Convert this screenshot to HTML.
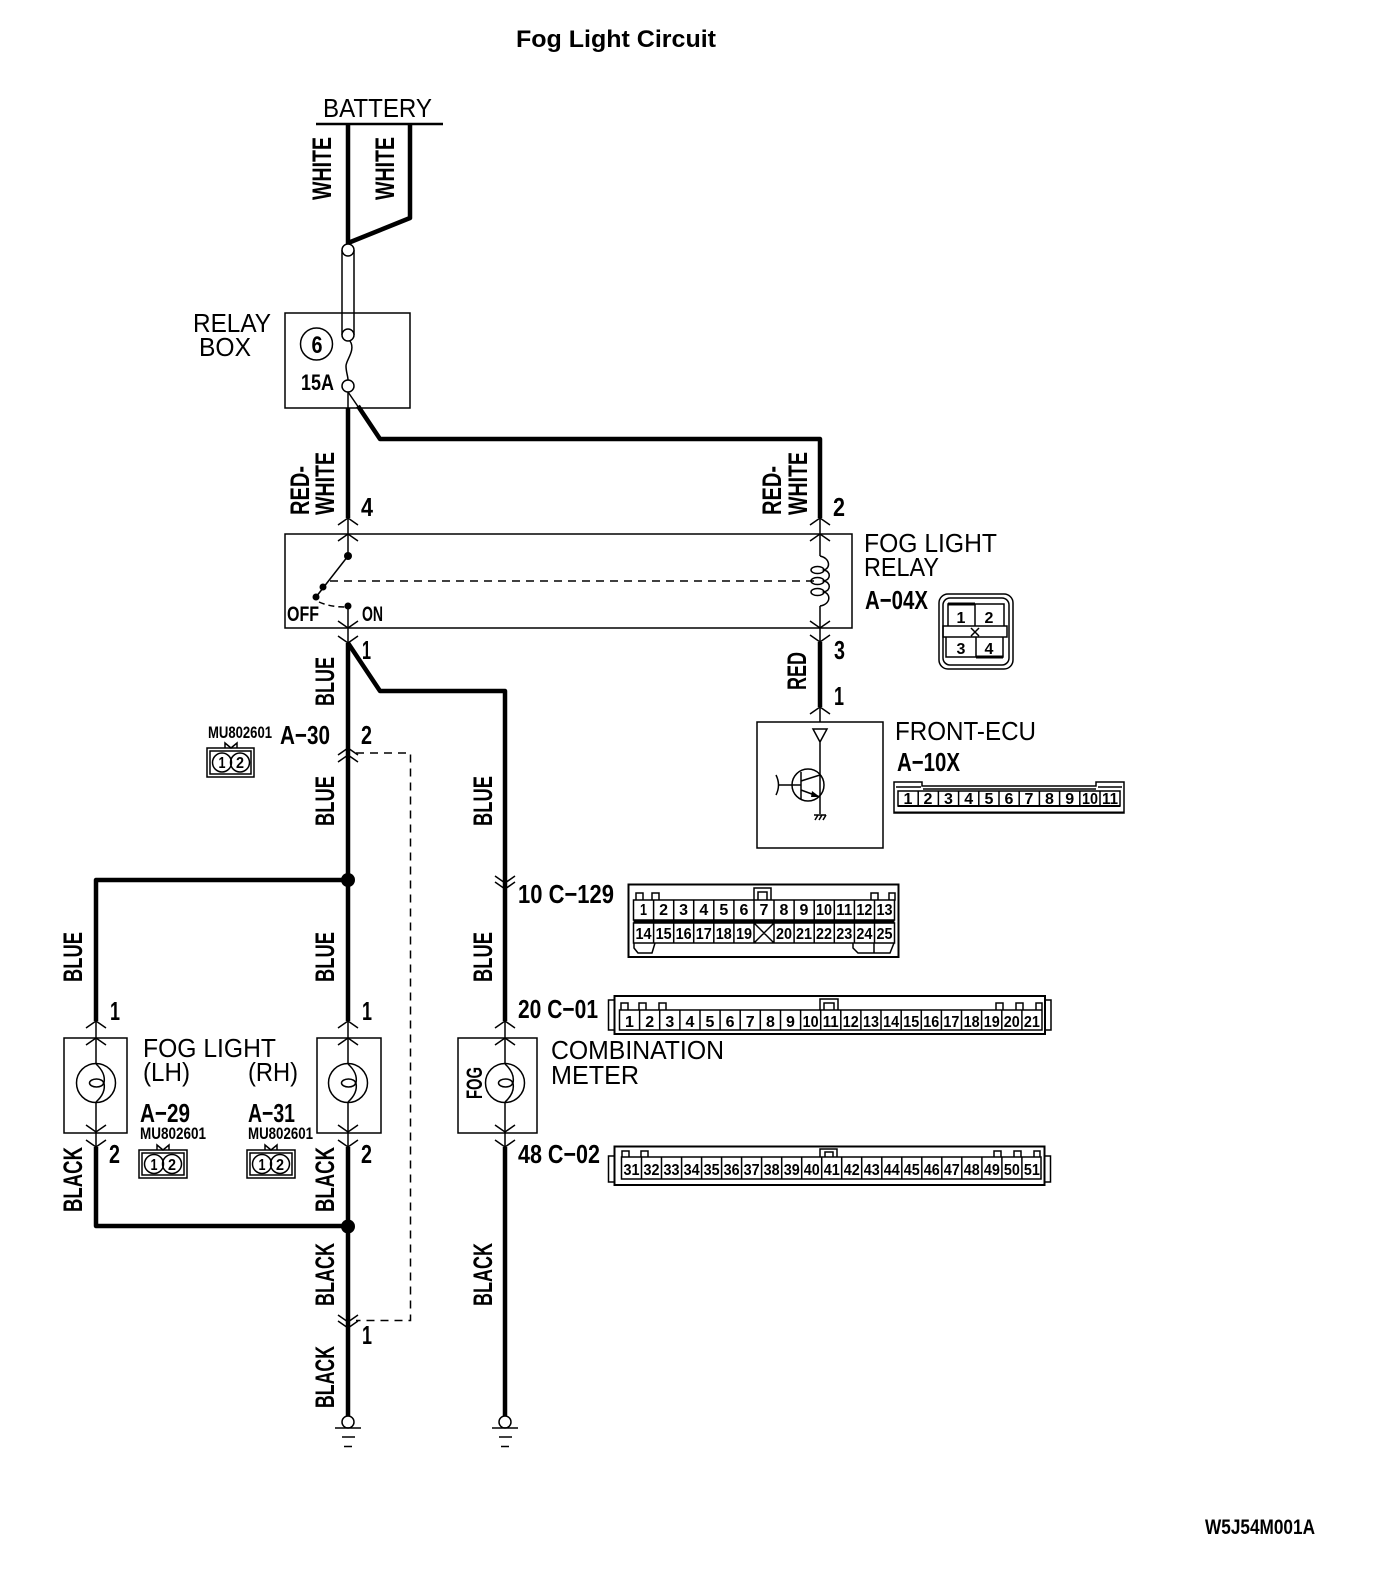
<!DOCTYPE html>
<html><head><meta charset="utf-8"><title>Fog Light Circuit</title>
<style>
html,body{margin:0;padding:0;background:#fff}
svg{display:block}
text{font-family:"Liberation Sans",sans-serif;fill:#000}
.r{font-size:26px}
.b{font-size:26px;font-weight:bold}
.v{font-size:27px;font-weight:bold}
.s{font-size:17px;font-weight:bold}
.n{font-size:16px;font-weight:bold;text-anchor:middle}
.th{fill:none;stroke:#000;stroke-width:1.5}
.w{fill:none;stroke:#000;stroke-width:4.5;stroke-linejoin:round}
.c{fill:#fff;stroke:#000;stroke-width:1.5}
.d{fill:none;stroke:#000;stroke-width:1.5;stroke-dasharray:8 6}
</style></head><body>
<svg xmlns="http://www.w3.org/2000/svg" width="1376" height="1574" viewBox="0 0 1376 1574">
<rect width="1376" height="1574" fill="#fff"/>
<text x="516" y="47" font-size="24" font-weight="bold" textLength="200" lengthAdjust="spacingAndGlyphs">Fog Light Circuit</text>
<text class="b" x="1205" y="1534" font-size="21" style="font-size:21px" textLength="110" lengthAdjust="spacingAndGlyphs">W5J54M001A</text>

<!-- Battery -->
<text class="r" x="323" y="117" textLength="109" lengthAdjust="spacingAndGlyphs">BATTERY</text>
<path d="M316 124H443" stroke="#000" stroke-width="2.5" fill="none"/>
<path class="w" d="M348 124V243L410 218V124"/>
<path class="th" d="M342 250V335M354 250V335"/>
<circle class="c" cx="348" cy="250" r="6"/>

<!-- Relay box -->
<rect class="th" x="285" y="313" width="125" height="95"/>
<circle class="c" cx="348" cy="335" r="6"/>
<path class="th" d="M350 341C356 350 346 360 346 366C346 372 348 376 348 380"/>
<circle class="c" cx="348" cy="386" r="6"/>
<circle class="th" cx="316.5" cy="344" r="16"/>
<text class="b" x="317" y="353" text-anchor="middle" style="font-size:24px" textLength="11" lengthAdjust="spacingAndGlyphs">6</text>
<text class="b" x="301" y="390" style="font-size:22px" textLength="33" lengthAdjust="spacingAndGlyphs">15A</text>
<text class="r" x="193" y="332" textLength="78" lengthAdjust="spacingAndGlyphs">RELAY</text>
<text class="r" x="199" y="356" textLength="52" lengthAdjust="spacingAndGlyphs">BOX</text>
<path class="th" d="M348 392V408"/>
<path class="th" d="M348 392L359 408"/>
<path class="w" d="M348 408V518"/>
<path class="w" d="M358 406L380 439H820V518"/>

<!-- Thick wires -->
<path class="w" d="M348 643V1021M348 1147V1416"/>
<path class="w" d="M348 643L380 691H505V1021M505 1147V1416"/>
<path class="w" d="M820 642V707"/>
<path class="w" d="M96 1021V880H348M96 1147V1226H348"/>
<circle cx="348" cy="880" r="7"/>
<circle cx="348" cy="1226.5" r="7"/>

<!-- Thin wires -->
<path class="th" d="M348 518V556M348 606V643M820 518V556M820 606V642M820 707V722"/>
<path class="th" d="M96 1021V1064M96 1102V1147M348 1021V1064M348 1102V1147M505 1021V1064M505 1102V1147"/>

<!-- Chevrons -->
<path class="th" d="M338 525L348 518L358 525M338 541L348 534L358 541M338 621L348 628L358 621M338 636L348 643L358 636
M810 525L820 518L830 525M810 541L820 534L830 541M810 621L820 628L830 621M810 635L820 642L830 635M810 714L820 707L830 714
M338 755L348 748L358 755M338 762L348 755L358 762M338 1315L348 1322L358 1315M338 1321L348 1328L358 1321
M86 1028L96 1021L106 1028M86 1045L96 1038L106 1045M86 1125L96 1132L106 1125M86 1140L96 1147L106 1140
M338 1028L348 1021L358 1028M338 1045L348 1038L358 1045M338 1125L348 1132L358 1125M338 1140L348 1147L358 1140
M495 1028L505 1021L515 1028M495 1045L505 1038L515 1045M495 1125L505 1132L515 1125M495 1140L505 1147L515 1140
M495 876L505 883L515 876M495 882L505 889L515 882"/>

<!-- Relay -->
<rect class="th" x="285" y="534" width="567" height="94"/>
<circle cx="348" cy="556" r="4"/>
<circle cx="348" cy="606" r="3.5"/>
<circle cx="316" cy="597" r="3.5"/>
<circle cx="323" cy="587" r="3.5"/>
<path class="th" d="M348 556L316 597"/>
<path fill="none" stroke="#000" stroke-width="1.5" stroke-dasharray="8 6" d="M330 581H815"/>
<path fill="none" stroke="#000" stroke-width="1.5" stroke-dasharray="6 4" d="M319 602Q330 607 345 607"/>
<text class="s" x="287" y="621" style="font-size:21px" textLength="32" lengthAdjust="spacingAndGlyphs">OFF</text>
<text class="s" x="362" y="621" style="font-size:21px" textLength="21" lengthAdjust="spacingAndGlyphs">ON</text>
<path class="th" d="M820 556C830 558 831 568 824 570C831 572 831 579 824 581C831 583 831 590 824 592C831 594 831 604 820 606"/>
<ellipse class="th" cx="817.5" cy="570" rx="6.5" ry="3.5"/>
<ellipse class="th" cx="817.5" cy="581" rx="6.5" ry="3.5"/>
<ellipse class="th" cx="817.5" cy="592" rx="6.5" ry="3.5"/>
<text class="r" x="864" y="552" textLength="133" lengthAdjust="spacingAndGlyphs">FOG LIGHT</text>
<text class="r" x="864" y="576" textLength="75" lengthAdjust="spacingAndGlyphs">RELAY</text>
<text class="b" x="865" y="609" textLength="63" lengthAdjust="spacingAndGlyphs">A−04X</text>
<rect class="th" x="939" y="594" width="74" height="75" rx="9"/>
<rect class="th" x="943" y="598" width="66" height="67" rx="7"/>
<path class="th" d="M948 604H1004V626H948ZM975 604V626M943 626H1007V637H943ZM946 637H1003V657H946ZM976 637V657M971 628L979 636M979 628L971 636"/>
<path d="M948 604H975M976 657H1003" stroke="#000" stroke-width="3" fill="none"/>
<text class="n" x="961" y="623">1</text><text class="n" x="989" y="623">2</text>
<text class="n" x="961" y="654">3</text><text class="n" x="989" y="654">4</text>

<!-- Front ECU -->
<rect class="th" x="757" y="722" width="126" height="126"/>
<path class="th" d="M813 729H827L820 742ZM820 742V814"/>
<circle class="th" cx="808" cy="785" r="16"/>
<path class="th" d="M778 785H801M801 772V799M801 781L820 775M801 790L820 797M776 775Q781 785 776 795"/>
<path d="M820 797L812 791L811 797Z"/>
<path class="th" d="M814 815H826M815 820L818 815M819 820L822 815M823 820L826 815"/>
<text class="r" x="895" y="740" textLength="141" lengthAdjust="spacingAndGlyphs">FRONT-ECU</text>
<text class="b" x="897" y="771" textLength="63" lengthAdjust="spacingAndGlyphs">A−10X</text>
<path class="th" d="M894 813V782H922V786H1096V782H1124V813Z"/>
<path class="th" d="M896 787H921M1098 787H1122M923 789H1096M898 791H1120V806H898Z"/>
<path d="M894 812.500H1124M898 806H1120" stroke="#000" stroke-width="2" fill="none"/>
<path class="th" d="M918.2 791v15M938.400 791v15M958.600 791v15M978.800 791v15M999 791v15M1019.200 791v15M1039.400 791v15M1059.600 791v15M1079.800 791v15M1100 791v15"/>
<text class="n" x="908" y="804">1</text><text class="n" x="928" y="804">2</text><text class="n" x="948.500" y="804">3</text><text class="n" x="968.700" y="804">4</text><text class="n" x="989" y="804">5</text><text class="n" x="1009" y="804">6</text><text class="n" x="1029" y="804">7</text><text class="n" x="1049.500" y="804">8</text><text class="n" x="1069.700" y="804">9</text>
<text class="n" x="1090" y="804" textLength="16" lengthAdjust="spacingAndGlyphs">10</text><text class="n" x="1110" y="804" textLength="16" lengthAdjust="spacingAndGlyphs">11</text>

<!-- Rotated wire labels -->
<g transform="translate(-2 0)">
<text class="v" transform="translate(333 200) rotate(-90)" textLength="63" lengthAdjust="spacingAndGlyphs">WHITE</text>
<text class="v" transform="translate(396 200) rotate(-90)" textLength="63" lengthAdjust="spacingAndGlyphs">WHITE</text>
<text class="v" transform="translate(311 515) rotate(-90)" textLength="49" lengthAdjust="spacingAndGlyphs">RED-</text>
<text class="v" transform="translate(336 515) rotate(-90)" textLength="63" lengthAdjust="spacingAndGlyphs">WHITE</text>
<text class="v" transform="translate(783 515) rotate(-90)" textLength="49" lengthAdjust="spacingAndGlyphs">RED-</text>
<text class="v" transform="translate(809 515) rotate(-90)" textLength="63" lengthAdjust="spacingAndGlyphs">WHITE</text>
<text class="v" transform="translate(336 706) rotate(-90)" textLength="49" lengthAdjust="spacingAndGlyphs">BLUE</text>
<text class="v" transform="translate(808 690) rotate(-90)" textLength="38" lengthAdjust="spacingAndGlyphs">RED</text>
<text class="v" transform="translate(336 826) rotate(-90)" textLength="50" lengthAdjust="spacingAndGlyphs">BLUE</text>
<text class="v" transform="translate(494 826) rotate(-90)" textLength="50" lengthAdjust="spacingAndGlyphs">BLUE</text>
<text class="v" transform="translate(84 982) rotate(-90)" textLength="50" lengthAdjust="spacingAndGlyphs">BLUE</text>
<text class="v" transform="translate(336 982) rotate(-90)" textLength="50" lengthAdjust="spacingAndGlyphs">BLUE</text>
<text class="v" transform="translate(494 982) rotate(-90)" textLength="50" lengthAdjust="spacingAndGlyphs">BLUE</text>
<text class="v" transform="translate(84 1212) rotate(-90)" textLength="65" lengthAdjust="spacingAndGlyphs">BLACK</text>
<text class="v" transform="translate(336 1212) rotate(-90)" textLength="65" lengthAdjust="spacingAndGlyphs">BLACK</text>
<text class="v" transform="translate(336 1306) rotate(-90)" textLength="63" lengthAdjust="spacingAndGlyphs">BLACK</text>
<text class="v" transform="translate(494 1306) rotate(-90)" textLength="63" lengthAdjust="spacingAndGlyphs">BLACK</text>
<text class="v" transform="translate(336 1408) rotate(-90)" textLength="62" lengthAdjust="spacingAndGlyphs">BLACK</text>
</g>

<!-- Pin numbers -->
<text class="b" x="361" y="516" textLength="12" lengthAdjust="spacingAndGlyphs">4</text>
<text class="b" x="833" y="516" textLength="12" lengthAdjust="spacingAndGlyphs">2</text>
<text class="b" x="362" y="659" textLength="9" lengthAdjust="spacingAndGlyphs">1</text>
<text class="b" x="834" y="659" textLength="11" lengthAdjust="spacingAndGlyphs">3</text>
<text class="b" x="834" y="705" textLength="10" lengthAdjust="spacingAndGlyphs">1</text>
<text class="b" x="361" y="744" textLength="11" lengthAdjust="spacingAndGlyphs">2</text>
<text class="b" x="110" y="1020" textLength="10" lengthAdjust="spacingAndGlyphs">1</text>
<text class="b" x="362" y="1020" textLength="10" lengthAdjust="spacingAndGlyphs">1</text>
<text class="b" x="109" y="1163" textLength="11" lengthAdjust="spacingAndGlyphs">2</text>
<text class="b" x="361" y="1163" textLength="11" lengthAdjust="spacingAndGlyphs">2</text>
<text class="b" x="362" y="1344" textLength="10" lengthAdjust="spacingAndGlyphs">1</text>

<!-- A-30 -->
<text class="b" x="280" y="744" textLength="50" lengthAdjust="spacingAndGlyphs">A−30</text>
<text class="s" x="208" y="738" textLength="64" lengthAdjust="spacingAndGlyphs">MU802601</text>
<g transform="translate(207 748)">
<path class="th" d="M18 0V-5L24 0L30 -5V0"/>
<rect class="th" width="47" height="29"/><rect class="th" x="3" y="3" width="41" height="23"/>
<circle class="th" cx="15" cy="14.500" r="9.500"/><circle class="th" cx="33" cy="14.500" r="9.500"/>
<text class="n" x="15" y="20" textLength="7" lengthAdjust="spacingAndGlyphs">1</text><text class="n" x="33" y="20" textLength="8" lengthAdjust="spacingAndGlyphs">2</text>
</g>
<path class="d" d="M356 753H410.500V1320.500H356"/>

<!-- Fog lights -->
<rect class="th" x="64" y="1038" width="63" height="95"/>
<rect class="th" x="317" y="1038" width="64" height="95"/>
<circle class="th" cx="96" cy="1083" r="19.500"/>
<circle class="th" cx="348" cy="1083" r="19.500"/>
<path class="th" d="M96 1064Q106 1073 104 1083Q106 1093 96 1102"/>
<ellipse class="th" cx="96.500" cy="1083" rx="7" ry="4"/>
<path class="th" d="M348 1064Q358 1073 356 1083Q358 1093 348 1102"/>
<ellipse class="th" cx="348.500" cy="1083" rx="7" ry="4"/>
<text class="r" x="143" y="1057" textLength="133" lengthAdjust="spacingAndGlyphs">FOG LIGHT</text>
<text class="r" x="143" y="1081" textLength="47" lengthAdjust="spacingAndGlyphs">(LH)</text>
<text class="r" x="248" y="1081" textLength="50" lengthAdjust="spacingAndGlyphs">(RH)</text>
<text class="b" x="140" y="1122" textLength="50" lengthAdjust="spacingAndGlyphs">A−29</text>
<text class="b" x="248" y="1122" textLength="47" lengthAdjust="spacingAndGlyphs">A−31</text>
<text class="s" x="140" y="1139" textLength="66" lengthAdjust="spacingAndGlyphs">MU802601</text>
<text class="s" x="248" y="1139" textLength="65" lengthAdjust="spacingAndGlyphs">MU802601</text>
<g transform="translate(139 1150)">
<path class="th" d="M18 0V-5L24 0L30 -5V0"/>
<rect class="th" width="48" height="28"/><rect class="th" x="3" y="3" width="42" height="22"/>
<circle class="th" cx="15" cy="14" r="9.500"/><circle class="th" cx="33" cy="14" r="9.500"/>
<text class="n" x="15" y="20" textLength="7" lengthAdjust="spacingAndGlyphs">1</text><text class="n" x="33" y="20" textLength="8" lengthAdjust="spacingAndGlyphs">2</text>
</g>
<g transform="translate(247 1150)">
<path class="th" d="M18 0V-5L24 0L30 -5V0"/>
<rect class="th" width="48" height="28"/><rect class="th" x="3" y="3" width="42" height="22"/>
<circle class="th" cx="15" cy="14" r="9.500"/><circle class="th" cx="33" cy="14" r="9.500"/>
<text class="n" x="15" y="20" textLength="7" lengthAdjust="spacingAndGlyphs">1</text><text class="n" x="33" y="20" textLength="8" lengthAdjust="spacingAndGlyphs">2</text>
</g>

<!-- Combination meter -->
<rect class="th" x="458" y="1038" width="79" height="95"/>
<circle class="th" cx="505" cy="1083" r="19.500"/>
<path class="th" d="M505 1064Q515 1073 513 1083Q515 1093 505 1102"/>
<ellipse class="th" cx="505.500" cy="1083" rx="7" ry="4"/>
<text class="s" transform="translate(482 1099) rotate(-90)" style="font-size:22px" textLength="32" lengthAdjust="spacingAndGlyphs">FOG</text>
<text class="r" x="551" y="1059" textLength="173" lengthAdjust="spacingAndGlyphs">COMBINATION</text>
<text class="r" x="551" y="1084" textLength="88" lengthAdjust="spacingAndGlyphs">METER</text>

<!-- Connector labels -->
<text class="b" x="518" y="903" textLength="96" lengthAdjust="spacingAndGlyphs">10 C−129</text>
<text class="b" x="518" y="1018" textLength="80" lengthAdjust="spacingAndGlyphs">20 C−01</text>
<text class="b" x="518" y="1163" textLength="82" lengthAdjust="spacingAndGlyphs">48 C−02</text>

<!-- C-129 -->
<rect x="628.500" y="884.500" width="270" height="72.500" fill="none" stroke="#000" stroke-width="2"/>
<path class="th" d="M633.500 900H894.500V920H633.500ZM633.500 923H894.500V943H633.500Z
M653.600 900v20M673.700 900v20M693.700 900v20M713.800 900v20M733.900 900v20M754 900v20M774 900v20M794.100 900v20M814.200 900v20M834.300 900v20M854.400 900v20M874.500 900v20
M653.600 923v20M673.700 923v20M693.700 923v20M713.800 923v20M733.900 923v20M754 923v20M774 923v20M794.100 923v20M814.200 923v20M834.300 923v20M854.400 923v20M874.500 923v20
M754 923L774 943M774 923L754 943
M636 893h7v7h-7zM652 893h7v7h-7zM871 893h7v7h-7zM889 893h6v7h-6z
M754 900V888H771V900M758 900V892H767V900
M634 943V948L638 953H652L655 943M853 943V948L858 953H890L894 943M874 943V953"/>
<path d="M633.500 921.500H894.500" stroke="#000" stroke-width="2"/>
<text class="n" x="643.500" y="915" textLength="7" lengthAdjust="spacingAndGlyphs">1</text><text class="n" x="663.600" y="915">2</text><text class="n" x="683.600" y="915">3</text><text class="n" x="703.800" y="915">4</text><text class="n" x="723.800" y="915">5</text><text class="n" x="744" y="915">6</text><text class="n" x="764" y="915">7</text><text class="n" x="784" y="915">8</text><text class="n" x="804" y="915">9</text>
<text class="n" x="824" y="915" textLength="16" lengthAdjust="spacingAndGlyphs">10</text><text class="n" x="844.300" y="915" textLength="16" lengthAdjust="spacingAndGlyphs">11</text><text class="n" x="864.400" y="915" textLength="16" lengthAdjust="spacingAndGlyphs">12</text><text class="n" x="884.500" y="915" textLength="16" lengthAdjust="spacingAndGlyphs">13</text>
<text class="n" x="643.500" y="939" textLength="16" lengthAdjust="spacingAndGlyphs">14</text><text class="n" x="663.600" y="939" textLength="16" lengthAdjust="spacingAndGlyphs">15</text><text class="n" x="683.600" y="939" textLength="16" lengthAdjust="spacingAndGlyphs">16</text><text class="n" x="703.800" y="939" textLength="16" lengthAdjust="spacingAndGlyphs">17</text><text class="n" x="723.800" y="939" textLength="16" lengthAdjust="spacingAndGlyphs">18</text><text class="n" x="744" y="939" textLength="16" lengthAdjust="spacingAndGlyphs">19</text>
<text class="n" x="784" y="939" textLength="16" lengthAdjust="spacingAndGlyphs">20</text><text class="n" x="804" y="939" textLength="16" lengthAdjust="spacingAndGlyphs">21</text><text class="n" x="824" y="939" textLength="16" lengthAdjust="spacingAndGlyphs">22</text><text class="n" x="844.300" y="939" textLength="16" lengthAdjust="spacingAndGlyphs">23</text><text class="n" x="864.400" y="939" textLength="16" lengthAdjust="spacingAndGlyphs">24</text><text class="n" x="884.500" y="939" textLength="16" lengthAdjust="spacingAndGlyphs">25</text>

<!-- C-01 -->
<rect x="614.500" y="996" width="430.500" height="38" fill="none" stroke="#000" stroke-width="2"/>
<path class="th" d="M614.500 1000H608.500V1030H614.500M1045 1000H1051V1030H1045
M619.500 1010H1042V1030H619.500Z
M639.600 1010v20M659.700 1010v20M679.900 1010v20M700 1010v20M720.100 1010v20M740.200 1010v20M760.300 1010v20M780.500 1010v20M800.600 1010v20M820.700 1010v20M840.800 1010v20M860.900 1010v20M881 1010v20M901.200 1010v20M921.300 1010v20M941.400 1010v20M961.500 1010v20M981.600 1010v20M1001.800 1010v20M1021.900 1010v20
M621 1003h7v7h-7zM639 1003h7v7h-7zM659 1003h7v7h-7zM996 1003h7v7h-7zM1016 1003h7v7h-7zM1036 1003h6v7h-6z
M820 1010V999H838V1010M824 1010V1003H834V1010"/>
<text class="n" x="629.500" y="1027">1</text><text class="n" x="649.700" y="1027">2</text><text class="n" x="669.800" y="1027">3</text><text class="n" x="689.900" y="1027">4</text><text class="n" x="710" y="1027">5</text><text class="n" x="730.100" y="1027">6</text><text class="n" x="750.200" y="1027">7</text><text class="n" x="770.400" y="1027">8</text><text class="n" x="790.500" y="1027">9</text>
<text class="n" x="810.600" y="1027" textLength="16" lengthAdjust="spacingAndGlyphs">10</text><text class="n" x="830.700" y="1027" textLength="16" lengthAdjust="spacingAndGlyphs">11</text><text class="n" x="850.800" y="1027" textLength="16" lengthAdjust="spacingAndGlyphs">12</text><text class="n" x="871" y="1027" textLength="16" lengthAdjust="spacingAndGlyphs">13</text><text class="n" x="891.100" y="1027" textLength="16" lengthAdjust="spacingAndGlyphs">14</text><text class="n" x="911.200" y="1027" textLength="16" lengthAdjust="spacingAndGlyphs">15</text><text class="n" x="931.300" y="1027" textLength="16" lengthAdjust="spacingAndGlyphs">16</text><text class="n" x="951.400" y="1027" textLength="16" lengthAdjust="spacingAndGlyphs">17</text><text class="n" x="971.600" y="1027" textLength="16" lengthAdjust="spacingAndGlyphs">18</text><text class="n" x="991.700" y="1027" textLength="16" lengthAdjust="spacingAndGlyphs">19</text><text class="n" x="1011.800" y="1027" textLength="16" lengthAdjust="spacingAndGlyphs">20</text><text class="n" x="1031.900" y="1027" textLength="16" lengthAdjust="spacingAndGlyphs">21</text>

<!-- C-02 -->
<rect x="614.500" y="1146.500" width="430" height="38.500" fill="none" stroke="#000" stroke-width="2"/>
<path class="th" d="M614.500 1156H608.500V1182H614.500M1044.500 1156H1050.500V1182H1044.500
M621.500 1157H1041V1179H621.500Z
M641.500 1157v22M661.500 1157v22M681.600 1157v22M701.600 1157v22M721.600 1157v22M741.600 1157v22M761.600 1157v22M781.700 1157v22M801.700 1157v22M821.700 1157v22M841.700 1157v22M861.700 1157v22M881.800 1157v22M901.800 1157v22M921.800 1157v22M941.800 1157v22M961.800 1157v22M981.900 1157v22M1001.900 1157v22M1021.900 1157v22
M622 1151h7v6h-7zM641 1151h7v6h-7zM994 1151h7v6h-7zM1014 1151h7v6h-7zM1034 1151h6v6h-6z
M820 1157V1149H837V1157M825 1157V1152H833V1157"/>
<text class="n" x="631.500" y="1175" textLength="16" lengthAdjust="spacingAndGlyphs">31</text><text class="n" x="651.500" y="1175" textLength="16" lengthAdjust="spacingAndGlyphs">32</text><text class="n" x="671.500" y="1175" textLength="16" lengthAdjust="spacingAndGlyphs">33</text><text class="n" x="691.600" y="1175" textLength="16" lengthAdjust="spacingAndGlyphs">34</text><text class="n" x="711.600" y="1175" textLength="16" lengthAdjust="spacingAndGlyphs">35</text><text class="n" x="731.600" y="1175" textLength="16" lengthAdjust="spacingAndGlyphs">36</text><text class="n" x="751.600" y="1175" textLength="16" lengthAdjust="spacingAndGlyphs">37</text><text class="n" x="771.600" y="1175" textLength="16" lengthAdjust="spacingAndGlyphs">38</text><text class="n" x="791.700" y="1175" textLength="16" lengthAdjust="spacingAndGlyphs">39</text><text class="n" x="811.700" y="1175" textLength="16" lengthAdjust="spacingAndGlyphs">40</text><text class="n" x="831.700" y="1175" textLength="16" lengthAdjust="spacingAndGlyphs">41</text><text class="n" x="851.700" y="1175" textLength="16" lengthAdjust="spacingAndGlyphs">42</text><text class="n" x="871.800" y="1175" textLength="16" lengthAdjust="spacingAndGlyphs">43</text><text class="n" x="891.800" y="1175" textLength="16" lengthAdjust="spacingAndGlyphs">44</text><text class="n" x="911.800" y="1175" textLength="16" lengthAdjust="spacingAndGlyphs">45</text><text class="n" x="931.800" y="1175" textLength="16" lengthAdjust="spacingAndGlyphs">46</text><text class="n" x="951.800" y="1175" textLength="16" lengthAdjust="spacingAndGlyphs">47</text><text class="n" x="971.800" y="1175" textLength="16" lengthAdjust="spacingAndGlyphs">48</text><text class="n" x="991.900" y="1175" textLength="16" lengthAdjust="spacingAndGlyphs">49</text><text class="n" x="1011.900" y="1175" textLength="16" lengthAdjust="spacingAndGlyphs">50</text><text class="n" x="1031.900" y="1175" textLength="16" lengthAdjust="spacingAndGlyphs">51</text>

<!-- Grounds -->
<circle class="c" cx="348" cy="1422" r="6"/>
<circle class="c" cx="505" cy="1422" r="6"/>
<path class="th" d="M335 1428H361M342 1437H355M344 1446.500H352M492 1428H518M499 1437H512M501 1446.500H509"/>
</svg>
</body></html>
